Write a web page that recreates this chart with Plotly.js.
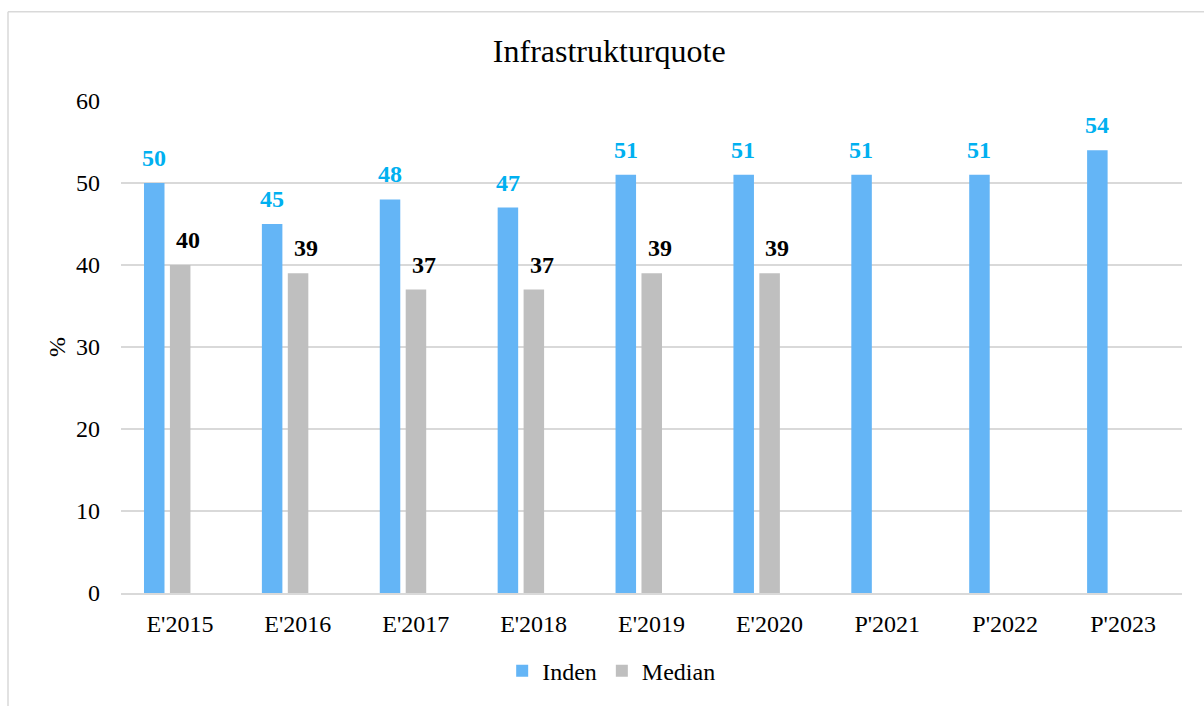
<!DOCTYPE html>
<html>
<head>
<meta charset="utf-8">
<script src="https://cdn.plot.ly/plotly-3.0.1.min.js"></script>
<style>
html,body{margin:0;padding:0;background:#fff;}
#chart{width:1204px;height:706px;}
</style>
</head>
<body>
<div id="chart"></div>
<script>
const categories = ["E'2015","E'2016","E'2017","E'2018","E'2019","E'2020","P'2021","P'2022","P'2023"];
const indenValues = [50,45,48,47,51,51,51,51,54];
const medianValues = [40,39,37,37,39,39,null,null,null];
const yTicks = [0,10,20,30,40,50,60];

const FONT = "'Liberation Serif', 'Times New Roman', serif";
const BLUE = '#64B5F6';
const GRAY = '#BFBFBF';
const LABEL_BLUE = '#00B0F0';

const BAR_W = 0.174;
const traces = [
  {type:'bar', name:'Inden', x:categories, y:indenValues, marker:{color:BLUE}, width:BAR_W, offset:-0.305, hoverinfo:'x+y'},
  {type:'bar', name:'Median', x:categories, y:medianValues, marker:{color:GRAY}, width:BAR_W, offset:-0.085, hoverinfo:'x+y'}
];

const annotations = [];
categories.forEach((c,i)=>{
  if (indenValues[i] != null) annotations.push({x:c, y:indenValues[i], xref:'x', yref:'y', text:'<b>'+indenValues[i]+'</b>', showarrow:false, yanchor:'bottom', xshift:-26, yshift:10, font:{family:FONT, size:24, color:LABEL_BLUE}});
  if (medianValues[i] != null) annotations.push({x:c, y:medianValues[i], xref:'x', yref:'y', text:'<b>'+medianValues[i]+'</b>', showarrow:false, yanchor:'bottom', xshift:8, yshift:10, font:{family:FONT, size:24, color:'#000'}});
});

const layout = {
  width:1204, height:706,
  margin:{l:121, r:22, t:101, b:109},
  paper_bgcolor:'#fff', plot_bgcolor:'#fff',
  font:{family:FONT, size:24, color:'#000'},
  title:{text:'Infrastrukturquote', font:{family:FONT, size:32, color:'#000'}, xref:'container', x:0.506, xanchor:'center', yref:'container', y:0.928, yanchor:'middle'},
  barmode:'group',
  xaxis:{type:'category', range:[-0.5, categories.length-0.5], showgrid:false, showline:true, linecolor:'#d9d9d9', linewidth:1.5, ticks:'', tickfont:{family:FONT, size:24, color:'#000'}, ticklabelstandoff:9, fixedrange:true},
  yaxis:{range:[0,60], tickvals:yTicks, ticktext:yTicks.map(String), showgrid:true, gridcolor:'#d9d9d9', gridwidth:1.5, zeroline:false, showline:false, ticks:'', tickfont:{family:FONT, size:24, color:'#000'}, ticklabelstandoff:20,
    title:{text:'%', font:{family:FONT, size:24, color:'#000'}, standoff:3}, fixedrange:true},
  showlegend:true,
  legend:{orientation:'h', x:0.462, xanchor:'center', y:-0.159, yanchor:'middle', font:{family:FONT, size:24, color:'#000'}, itemwidth:30, bgcolor:'rgba(0,0,0,0)'},
  annotations:annotations,
  shapes:[
    {type:'line', xref:'paper', yref:'paper', x0:-0.1065, x1:1.1, y0:1.1815, y1:1.1815, line:{color:'#d9d9d9', width:1.5}, layer:'below'},
    {type:'line', xref:'paper', yref:'paper', x0:-0.1065, x1:-0.1065, y0:1.1815, y1:-0.3, line:{color:'#d9d9d9', width:1.5}, layer:'below'}
  ]
};

Plotly.newPlot('chart', traces, layout, {displayModeBar:false, staticPlot:true});
</script>
</body>
</html>
